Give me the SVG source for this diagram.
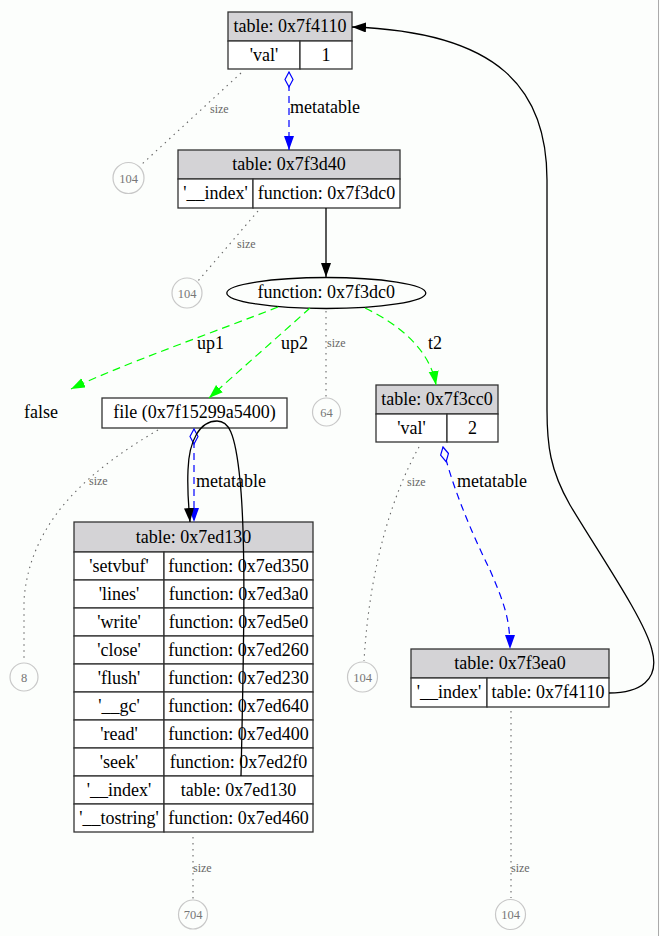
<svg xmlns="http://www.w3.org/2000/svg" width="660" height="936" viewBox="0 0 660 936">
<defs>
<style>
text{font-family:"Liberation Serif","Times New Roman",serif;font-size:18px;fill:#000;text-anchor:middle}
.hd{fill:#d4d3d6;stroke:#333;stroke-width:1.3}
.cl{fill:#fff;stroke:#333;stroke-width:1.3}
.sz{stroke:#666;stroke-width:1.1;stroke-dasharray:1.5,4.5;fill:none}
.szt{font-size:12px;fill:#666;text-anchor:start}
.cir{fill:none;stroke:#c8c8c8;stroke-width:1.2}
.cit{font-size:12.5px;fill:#777}
.mt{stroke:#00f;stroke-width:1.2;stroke-dasharray:7,5;fill:none}
.gr{stroke:#0f0;stroke-width:1.2;stroke-dasharray:8,5;fill:none}
.bk{stroke:#000;stroke-width:1.3;fill:none}
.lb{text-anchor:start}
</style>
<marker id="ab" markerUnits="userSpaceOnUse" markerWidth="15" markerHeight="11" refX="14" refY="5" orient="auto"><path d="M0,0 L14,5 L0,10 z" fill="#000"/></marker>
<marker id="au" markerUnits="userSpaceOnUse" markerWidth="15" markerHeight="11" refX="14" refY="5" orient="auto"><path d="M0,0 L14,5 L0,10 z" fill="#00f"/></marker>
<marker id="ag" markerUnits="userSpaceOnUse" markerWidth="15" markerHeight="11" refX="14" refY="5" orient="auto"><path d="M0,0 L14,5 L0,10 z" fill="#0f0"/></marker>
<marker id="dm" markerUnits="userSpaceOnUse" markerWidth="18" markerHeight="10" refX="1" refY="5" orient="auto"><path d="M1,5 L8.5,1 L16,5 L8.5,9 z" fill="#fcfefc" stroke="#00f" stroke-width="1.2"/></marker>
</defs>
<rect x="0" y="0" width="660" height="936" fill="#fcfefc"/>
<line x1="658.5" y1="0" x2="658.5" y2="936" stroke="#aaa" stroke-width="1"/>

<g id="t_7f4110">
<rect class="hd" x="228" y="12" width="124" height="29"/>
<rect class="cl" x="228" y="41" width="72" height="28"/>
<rect class="cl" x="300" y="41" width="52" height="28"/>
<text x="290" y="32">table: 0x7f4110</text>
<text x="264" y="61">'val'</text>
<text x="326" y="61">1</text>
</g>

<g id="t_7f3d40">
<rect class="hd" x="178" y="150" width="222" height="29"/>
<rect class="cl" x="178" y="179" width="75" height="29"/>
<rect class="cl" x="253" y="179" width="147" height="29"/>
<text x="289" y="170">table: 0x7f3d40</text>
<text x="215.5" y="199">'__index'</text>
<text x="326.5" y="199">function: 0x7f3dc0</text>
</g>

<g id="f_7f3dc0">
<ellipse cx="326.3" cy="293" rx="99.5" ry="15.5" fill="none" stroke="#000" stroke-width="1.3"/>
<text x="326.3" y="298">function: 0x7f3dc0</text>
</g>

<g id="v_false">
<text x="41" y="418">false</text>
</g>

<g id="file">
<rect class="cl" x="102" y="398" width="185" height="30"/>
<text x="194.5" y="418">file (0x7f15299a5400)</text>
</g>

<g id="t_7f3cc0">
<rect class="hd" x="376" y="385" width="122" height="29"/>
<rect class="cl" x="376" y="414" width="71" height="28"/>
<rect class="cl" x="447" y="414" width="51" height="28"/>
<text x="437" y="405">table: 0x7f3cc0</text>
<text x="411.5" y="434">'val'</text>
<text x="472.5" y="434">2</text>
</g>

<g id="t_7f3ea0">
<rect class="hd" x="411" y="649" width="198" height="29"/>
<rect class="cl" x="411" y="678" width="76" height="29"/>
<rect class="cl" x="487" y="678" width="122" height="29"/>
<text x="510" y="669">table: 0x7f3ea0</text>
<text x="449" y="698">'__index'</text>
<text x="548" y="698">table: 0x7f4110</text>
</g>

<g id="t_7ed130">
<rect class="hd" x="74" y="522" width="239" height="30"/>
<text x="193.5" y="543">table: 0x7ed130</text>
<rect class="cl" x="74" y="552" width="90" height="28"/><rect class="cl" x="164" y="552" width="149" height="28"/>
<rect class="cl" x="74" y="580" width="90" height="28"/><rect class="cl" x="164" y="580" width="149" height="28"/>
<rect class="cl" x="74" y="608" width="90" height="28"/><rect class="cl" x="164" y="608" width="149" height="28"/>
<rect class="cl" x="74" y="636" width="90" height="28"/><rect class="cl" x="164" y="636" width="149" height="28"/>
<rect class="cl" x="74" y="664" width="90" height="28"/><rect class="cl" x="164" y="664" width="149" height="28"/>
<rect class="cl" x="74" y="692" width="90" height="28"/><rect class="cl" x="164" y="692" width="149" height="28"/>
<rect class="cl" x="74" y="720" width="90" height="28"/><rect class="cl" x="164" y="720" width="149" height="28"/>
<rect class="cl" x="74" y="748" width="90" height="28"/><rect class="cl" x="164" y="748" width="149" height="28"/>
<rect class="cl" x="74" y="776" width="90" height="28"/><rect class="cl" x="164" y="776" width="149" height="28"/>
<rect class="cl" x="74" y="804" width="90" height="28"/><rect class="cl" x="164" y="804" width="149" height="28"/>
<text x="119" y="572">'setvbuf'</text><text x="238.5" y="572">function: 0x7ed350</text>
<text x="119" y="600">'lines'</text><text x="238.5" y="600">function: 0x7ed3a0</text>
<text x="119" y="628">'write'</text><text x="238.5" y="628">function: 0x7ed5e0</text>
<text x="119" y="656">'close'</text><text x="238.5" y="656">function: 0x7ed260</text>
<text x="119" y="684">'flush'</text><text x="238.5" y="684">function: 0x7ed230</text>
<text x="119" y="712">'__gc'</text><text x="238.5" y="712">function: 0x7ed640</text>
<text x="119" y="740">'read'</text><text x="238.5" y="740">function: 0x7ed400</text>
<text x="119" y="768">'seek'</text><text x="238.5" y="768">function: 0x7ed2f0</text>
<text x="119" y="796">'__index'</text><text x="238.5" y="796">table: 0x7ed130</text>
<text x="119" y="824">'__tostring'</text><text x="238.5" y="824">function: 0x7ed460</text>
</g>

<g id="s1"><circle class="cir" cx="128.5" cy="178" r="15.5"/><text class="cit" x="128.5" y="182.5">104</text></g>
<g id="s2"><circle class="cir" cx="187" cy="293" r="15"/><text class="cit" x="187" y="297.5">104</text></g>
<g id="s3"><circle class="cir" cx="326.5" cy="412" r="14"/><text class="cit" x="326.5" y="416.5">64</text></g>
<g id="s4"><circle class="cir" cx="24" cy="677" r="14"/><text class="cit" x="24" y="681.5">8</text></g>
<g id="s5"><circle class="cir" cx="362.5" cy="677" r="15"/><text class="cit" x="362.5" y="681.5">104</text></g>
<g id="s6"><circle class="cir" cx="193" cy="914.5" r="14.5"/><text class="cit" x="193" y="919">704</text></g>
<g id="s7"><circle class="cir" cx="510.5" cy="914.5" r="15"/><text class="cit" x="510.5" y="919">104</text></g>

<g id="connectors">
<path class="sz" d="M241,73 L141,165"/>
<text class="szt" x="210" y="113">size</text>
<path class="sz" d="M258,211 L198,281"/>
<text class="szt" x="237" y="248">size</text>
<path class="sz" d="M326,311 L326,397"/>
<text class="szt" x="327" y="347">size</text>
<path class="sz" d="M158,430 C 90,470 30,520 24,600 L24,662"/>
<text class="szt" x="89" y="485">size</text>
<path class="sz" d="M419,447 C 395,490 370,560 364,661"/>
<text class="szt" x="407" y="486">size</text>
<path class="sz" d="M511,711 L511,898"/>
<text class="szt" x="511" y="872">size</text>
<path class="sz" d="M193,837 L193,899"/>
<text class="szt" x="193" y="872">size</text>

<path class="mt" d="M289,72 L289,150" marker-start="url(#dm)" marker-end="url(#au)"/>
<text class="lb" x="290" y="113">metatable</text>
<path class="mt" d="M194,429 L194,522" marker-start="url(#dm)" marker-end="url(#au)"/>
<text class="lb" x="196" y="487">metatable</text>
<path class="mt" d="M443,447 C 450,480 470,530 490,570 C 505,605 510,620 510,649" marker-start="url(#dm)" marker-end="url(#au)"/>
<text class="lb" x="457" y="487">metatable</text>

<path class="gr" d="M278,307 C 220,330 120,365 71,389" marker-end="url(#ag)"/>
<text class="lb" x="197" y="349">up1</text>
<path class="gr" d="M310,308 C 280,335 240,370 209,398" marker-end="url(#ag)"/>
<text class="lb" x="281" y="349">up2</text>
<path class="gr" d="M365,308 C 400,325 430,350 436,385" marker-end="url(#ag)"/>
<text class="lb" x="428" y="349">t2</text>

<path class="bk" d="M326,208 L326,277" marker-end="url(#ab)"/>
<path class="bk" d="M241,776 C 244,640 246,540 240,480 C 235,430 228,421 217,421 C 200,421 189,440 188,470 C 187,495 189,508 190,522" marker-end="url(#ab)"/>
<path class="bk" d="M609,693 C 640,693 660,680 652,650 C 645,620 600,555 570,505 C 550,470 547,445 547,410 L547,180 C 547,90 500,32 352,27" marker-end="url(#ab)"/>
</g>
</svg>
